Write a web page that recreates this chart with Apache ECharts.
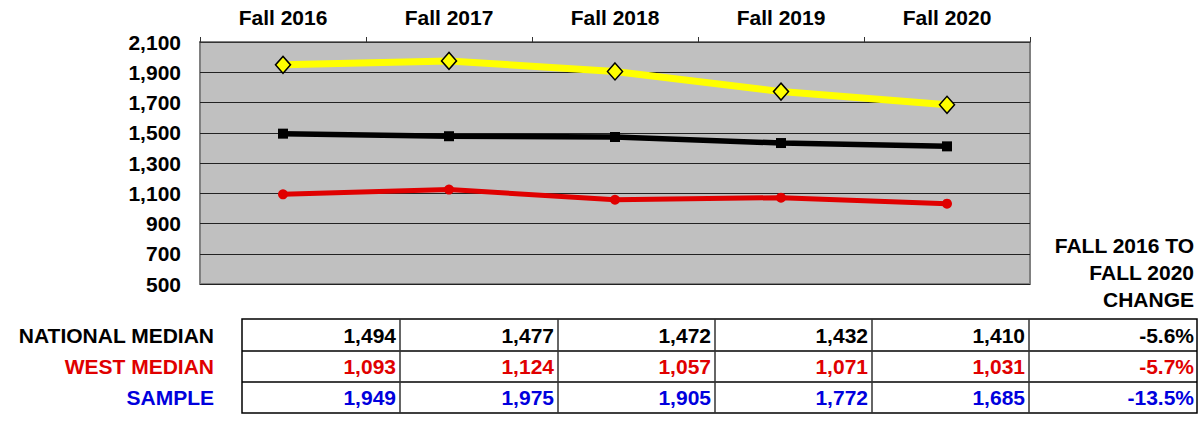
<!DOCTYPE html>
<html><head><meta charset="utf-8">
<script src="https://cdn.jsdelivr.net/npm/echarts@6/dist/echarts.min.js"></script>
<style>html,body{margin:0;padding:0;background:#fff}#c{width:1200px;height:423px}</style>
</head><body><div id="c"></div>
<script>
const categories = ['Fall 2016','Fall 2017','Fall 2018','Fall 2019','Fall 2020'];
const nationalMedian = [1494,1477,1472,1432,1410];
const westMedian = [1093,1124,1057,1071,1031];
const sample = [1949,1975,1905,1772,1685];
const changes = ['-5.6%','-5.7%','-13.5%'];
const rowLabels = ['NATIONAL MEDIAN','WEST MEDIAN','SAMPLE'];
const changeHeader = ['FALL 2016 TO','FALL 2020','CHANGE'];

const FONT = '"Liberation Sans", Arial, sans-serif';
const FS = 21;
const RED = '#e00000', BLUE = '#0000dd';
const fmt = v => v.toLocaleString('en-US');

const chart = echarts.init(document.getElementById('c'), null, {renderer:'svg'});

// table layout
const colX = [242,400,558,715,872,1029,1197];
const rowY = [319,351,382,413];
const rows = [nationalMedian, westMedian, sample];
const rowColors = ['#000', RED, BLUE];
const g = [];
g.push({type:'rect', shape:{x:colX[0], y:rowY[0], width:colX[6]-colX[0], height:rowY[3]-rowY[0]},
  style:{fill:'none', stroke:'#000', lineWidth:1.5}});
for (let i=1;i<3;i++) g.push({type:'line', shape:{x1:colX[0],y1:rowY[i],x2:colX[6],y2:rowY[i]}, style:{stroke:'#000',lineWidth:1.5}});
for (let j=1;j<6;j++) g.push({type:'line', shape:{x1:colX[j],y1:rowY[0],x2:colX[j],y2:rowY[3]}, style:{stroke:'#333',lineWidth:1.5}});
rows.forEach((r,i)=>{
  const yc = (rowY[i]+rowY[i+1])/2;
  g.push({type:'text', x:214, y:yc, style:{text:rowLabels[i], fill:rowColors[i], font:'bold '+FS+'px '+FONT, align:'right', verticalAlign:'middle'}});
  r.forEach((v,j)=>{
    g.push({type:'text', x:colX[j+1]-4, y:yc, style:{text:fmt(v), fill:rowColors[i], font:'bold '+FS+'px '+FONT, align:'right', verticalAlign:'middle'}});
  });
  g.push({type:'text', x:1194, y:yc, style:{text:changes[i], fill:rowColors[i], font:'bold '+FS+'px '+FONT, align:'right', verticalAlign:'middle'}});
});
changeHeader.forEach((t,i)=>{
  g.push({type:'text', x:1194, y:245.5+i*27, style:{text:t, fill:'#000', font:'bold '+FS+'px '+FONT, align:'right', verticalAlign:'middle'}});
});

chart.setOption({
  animation:false,
  textStyle:{fontFamily:FONT},
  grid:{left:200, right:170, top:42, height:242, show:true, backgroundColor:'#c0c0c0', borderColor:'#808080', borderWidth:2},
  xAxis:{type:'category', position:'top', data:categories, boundaryGap:true,
    axisLine:{show:true, lineStyle:{color:'#333', width:1}},
    axisTick:{show:true, length:5, lineStyle:{color:'#333'}},
    axisLabel:{color:'#000', fontWeight:'bold', fontSize:FS, margin:14, fontFamily:FONT},
    splitLine:{show:false}},
  yAxis:{type:'value', min:500, max:2100, interval:200,
    axisLine:{show:false}, axisTick:{show:false},
    axisLabel:{color:'#000', fontWeight:'bold', fontSize:FS, margin:19, fontFamily:FONT, formatter:v=>fmt(v)},
    splitLine:{show:true, lineStyle:{color:'#222', width:1}}},
  series:[
    {name:'West Median', type:'line', data:westMedian, symbol:'circle', symbolSize:10,
      lineStyle:{color:RED, width:5}, itemStyle:{color:RED}, z:3},
    {name:'National Median', type:'line', data:nationalMedian, symbol:'rect', symbolSize:10,
      lineStyle:{color:'#000', width:5.5}, itemStyle:{color:'#000'}, z:4},
    {name:'Sample', type:'line', data:sample, symbol:'diamond', symbolSize:[15,17],
      lineStyle:{color:'#ffff00', width:7}, itemStyle:{color:'#ffff00', borderColor:'#000', borderWidth:1.5}, z:5}
  ],
  graphic:g
});
</script></body></html>
